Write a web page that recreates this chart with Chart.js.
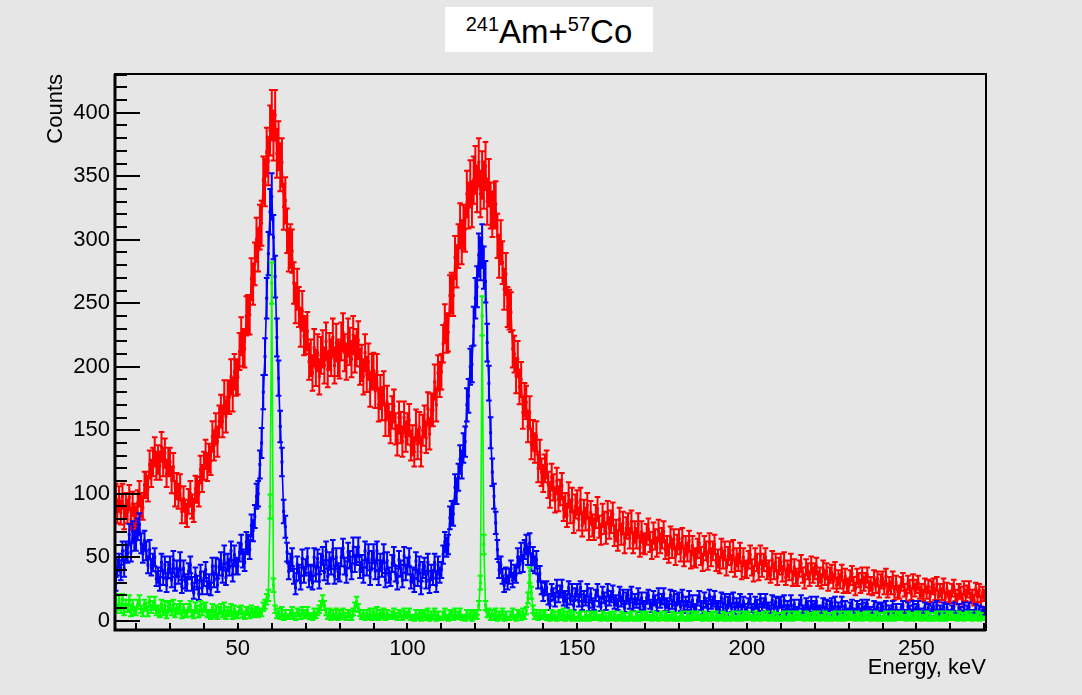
<!DOCTYPE html>
<html>
<head>
<meta charset="utf-8">
<script src="https://cdn.jsdelivr.net/npm/chart.js@4.4.1/dist/chart.umd.min.js"></script>
<style>
  html, body { margin: 0; padding: 0; background: #e6e6e6; }
  #wrap { position: relative; width: 1082px; height: 695px; }
  #title {
    position: absolute; left: 445px; top: 7px; width: 208px; height: 45px;
    background: #fff; color: #000; text-align: center;
    font-family: 'Liberation Sans', Arial, sans-serif; font-size: 33px; line-height: 50px;
  }
  #title sup { font-size: 20px; vertical-align: 0; position: relative; top: -12px; }
</style>
</head>
<body>
<div id="wrap">
  <canvas id="spec" width="1082" height="695"></canvas>
  <div id="title"><sup>241</sup>Am+<sup>57</sup>Co</div>
</div>
<script>
// ── Data (0.5 keV bins, first bin centre 14 keV) ───────
const E_FIRST = 14;
const E_STEP = 0.5;

const RED = [
  98, 86,                                                   // 14
  96, 85, 98, 81, 91, 86, 97, 80, 92, 83,                   // 15
  81, 93, 100, 91, 89, 107, 107, 104, 123, 116,             // 20
  125, 133, 122, 127, 122, 137, 125, 132, 116, 125,         // 25
  125, 111, 121, 100, 106, 98, 105, 86, 96, 86,             // 30
  83, 94, 100, 90, 87, 104, 103, 100, 119, 112,             // 35
  122, 131, 121, 128, 126, 145, 138, 151, 141, 157,         // 40
  165, 157, 176, 161, 176, 176, 192, 178, 196, 191,         // 45
  192, 212, 224, 215, 214, 240, 241, 241, 269, 265,         // 50
  281, 300, 292, 310, 313, 347, 345, 369, 362, 386,         // 55
  398, 382, 398, 368, 374, 357, 361, 326, 331, 307,         // 60
  292, 295, 291, 266, 250, 261, 247, 231, 244, 224,         // 65
  225, 228, 204, 207, 195, 215, 199, 211, 192, 209,         // 70
  214, 201, 220, 198, 212, 207, 223, 201, 219, 207,         // 75
  205, 220, 227, 211, 204, 223, 216, 206, 225, 210,         // 80
  215, 221, 200, 203, 192, 211, 194, 204, 182, 196,         // 85
  197, 181, 196, 170, 180, 171, 183, 158, 172, 158,         // 90
  152, 164, 169, 151, 142, 160, 152, 141, 160, 145,         // 95
  151, 158, 138, 142, 133, 154, 139, 152, 133, 150,         // 100
  157, 144, 167, 147, 166, 166, 188, 170, 195, 190,         // 105
  196, 218, 234, 226, 227, 256, 258, 256, 286, 279,         // 110
  295, 311, 298, 310, 308, 336, 327, 344, 328, 347,         // 115
  355, 340, 361, 336, 351, 343, 358, 330, 345, 327,         // 120
  320, 327, 328, 303, 287, 298, 282, 261, 273, 247,         // 125
  245, 243, 214, 210, 193, 206, 184, 190, 164, 174,         // 130
  172, 153, 164, 139, 146, 136, 145, 120, 131, 117,         // 135
  112, 120, 123, 107, 99, 113, 105, 95, 110, 96,            // 140
  101, 106, 88, 91, 83, 99, 86, 95, 78, 90,                 // 145
  93, 80, 95, 75, 86, 80, 91, 72, 85, 75,                   // 150
  72, 82, 88, 74, 68, 83, 77, 69, 85, 73,                   // 155
  78, 84, 67, 71, 63, 80, 68, 77, 61, 73,                   // 160
  76, 65, 78, 61, 70, 65, 76, 58, 70, 61,                   // 165
  60, 68, 72, 62, 56, 69, 64, 58, 71, 61,                   // 170
  65, 70, 56, 59, 53, 66, 57, 64, 51, 60,                   // 175
  64, 54, 65, 50, 59, 54, 63, 48, 59, 50,                   // 180
  49, 57, 61, 51, 46, 59, 55, 47, 61, 50,                   // 185
  55, 60, 46, 49, 44, 57, 48, 55, 42, 51,                   // 190
  55, 45, 56, 41, 50, 46, 54, 39, 50, 41,                   // 195
  40, 48, 52, 42, 37, 50, 46, 38, 52, 41,                   // 200
  46, 50, 39, 41, 36, 48, 39, 46, 34, 43,                   // 205
  46, 37, 47, 34, 41, 38, 46, 33, 42, 35,                   // 210
  33, 41, 45, 36, 31, 42, 39, 33, 44, 36,                   // 215
  39, 43, 33, 36, 31, 41, 34, 39, 29, 36,                   // 220
  38, 31, 40, 28, 34, 31, 38, 27, 35, 28,                   // 225
  27, 34, 37, 29, 25, 35, 32, 27, 36, 29,                   // 230
  32, 36, 26, 29, 25, 34, 27, 33, 23, 31,                   // 235
  33, 26, 35, 23, 29, 26, 33, 21, 30, 23,                   // 240
  22, 29, 32, 24, 20, 30, 27, 21, 31, 24,                   // 245
  27, 30, 22, 24, 20, 28, 22, 27, 19, 26,                   // 250
  28, 21, 29, 19, 24, 21, 28, 18, 25, 19,                   // 255
  18, 24, 27, 20, 17, 24, 22, 17, 26, 20,                   // 260
  23, 26, 18, 20, 16, 25, 19, 24, 15, 22,                   // 265
  20                                                        // 270
];

const BLUE = [
  29, 42,                                                   // 14
  46, 38, 55, 41, 55, 53, 68, 54, 70, 63,                   // 15
  63, 72, 76, 61, 53, 63, 55, 44, 56, 42,                   // 20
  46, 50, 33, 36, 29, 46, 34, 44, 28, 40,                   // 25
  44, 32, 48, 29, 41, 35, 47, 27, 41, 31,                   // 30
  29, 39, 44, 29, 22, 36, 30, 21, 38, 26,                   // 35
  33, 40, 26, 31, 25, 43, 32, 43, 28, 42,                   // 40
  47, 36, 52, 34, 46, 42, 55, 37, 52, 43,                   // 45
  43, 54, 60, 49, 46, 62, 60, 56, 75, 71,                   // 50
  82, 98, 100, 123, 140, 180, 208, 254, 289, 322,           // 55
  334, 302, 271, 223, 191, 153, 125, 86, 74, 54,            // 60
  39, 46, 50, 35, 26, 44, 38, 30, 49, 36,                   // 65
  42, 50, 32, 38, 30, 50, 37, 49, 31, 46,                   // 70
  51, 38, 55, 35, 47, 43, 56, 35, 50, 39,                   // 75
  37, 50, 57, 43, 36, 54, 48, 39, 58, 45,                   // 80
  51, 58, 40, 45, 36, 55, 42, 53, 34, 48,                   // 85
  53, 39, 55, 34, 46, 41, 53, 32, 47, 36,                   // 90
  33, 45, 51, 37, 30, 48, 41, 32, 51, 38,                   // 95
  43, 50, 31, 36, 28, 47, 33, 44, 26, 40,                   // 100
  43, 31, 46, 27, 38, 34, 46, 28, 44, 36,                   // 105
  40, 52, 62, 58, 60, 81, 85, 84, 105, 102,                 // 110
  113, 127, 123, 136, 141, 170, 177, 200, 202, 232,         // 115
  254, 263, 288, 285, 295, 278, 267, 219, 187, 148,         // 120
  117, 98, 77, 56, 40, 44, 35, 28, 36, 30,                  // 125
  35, 41, 32, 38, 36, 50, 44, 54, 45, 56,                   // 130
  60, 51, 61, 46, 51, 44, 48, 31, 37, 26,                   // 135
  20, 25, 26, 17, 12, 24, 21, 15, 27, 19,                   // 140
  23, 27, 16, 19, 14, 26, 17, 24, 12, 21,                   // 145
  24, 15, 26, 12, 19, 16, 24, 11, 21, 14,                   // 150
  12, 20, 24, 15, 11, 22, 18, 12, 24, 16,                   // 155
  19, 23, 13, 16, 12, 22, 15, 20, 10, 18,                   // 160
  20, 13, 22, 11, 17, 14, 21, 10, 18, 12,                   // 165
  10, 18, 20, 13, 10, 19, 16, 11, 21, 14,                   // 170
  17, 21, 11, 14, 10, 20, 13, 19, 9, 17,                    // 175
  18, 11, 20, 9, 15, 12, 19, 8, 16, 10,                     // 180
  9, 16, 19, 12, 8, 18, 14, 10, 20, 13,                     // 185
  15, 19, 10, 12, 8, 18, 11, 17, 7, 15,                     // 190
  17, 10, 18, 8, 14, 11, 17, 8, 15, 10,                     // 195
  8, 14, 17, 10, 7, 15, 13, 8, 17, 11,                      // 200
  14, 17, 9, 11, 7, 16, 10, 15, 7, 14,                      // 205
  15, 8, 16, 6, 12, 9, 16, 6, 13, 8,                        // 210
  7, 13, 16, 9, 6, 14, 12, 7, 15, 10,                       // 215
  12, 15, 7, 9, 5, 14, 8, 13, 5, 12,                        // 220
  14, 7, 15, 5, 11, 8, 15, 5, 12, 7,                        // 225
  6, 11, 13, 7, 5, 12, 10, 6, 13, 8,                        // 230
  11, 13, 7, 8, 5, 12, 7, 11, 5, 10,                        // 235
  11, 6, 12, 4, 9, 7, 12, 4, 10, 6,                         // 240
  5, 10, 12, 6, 4, 11, 9, 5, 12, 7,                         // 245
  10, 12, 6, 7, 4, 11, 6, 10, 4, 9,                         // 250
  11, 6, 12, 4, 9, 7, 11, 4, 10, 6,                         // 255
  4, 9, 11, 5, 3, 10, 8, 4, 11, 6,                          // 260
  9, 11, 5, 6, 3, 10, 5, 9, 3, 8,                           // 265
  7                                                         // 270
];

const GREEN = [
  17, 9,                                                    // 14
  16, 9, 17, 7, 13, 10, 16, 6, 13, 8,                       // 15
  7, 13, 16, 9, 6, 13, 11, 6, 15, 9,                        // 20
  12, 15, 7, 9, 5, 13, 7, 12, 4, 11,                        // 25
  12, 7, 13, 5, 10, 8, 12, 4, 10, 6,                        // 30
  5, 10, 12, 6, 4, 11, 9, 5, 12, 7,                         // 35
  10, 11, 5, 6, 3, 10, 5, 9, 3, 8,                          // 40
  10, 5, 11, 3, 8, 6, 10, 3, 9, 5,                          // 45
  4, 8, 9, 5, 3, 8, 7, 4, 9, 5,                             // 50
  7, 8, 5, 7, 6, 11, 13, 17, 20, 90,                        // 55
  266, 28, 9, 4, 7, 3, 8, 2, 6, 3,                          // 60
  3, 6, 8, 4, 2, 7, 6, 3, 8, 4,                             // 65
  6, 8, 3, 4, 2, 7, 4, 7, 9, 12,                            // 70
  16, 12, 7, 3, 7, 2, 6, 3, 7, 2,                           // 75
  6, 3, 7, 4, 2, 6, 5, 2, 7, 11,                            // 80
  15, 10, 6, 3, 6, 2, 6, 3, 7, 2,                           // 85
  7, 3, 8, 2, 6, 4, 7, 2, 6, 3,                             // 90
  3, 5, 7, 4, 2, 6, 5, 2, 7, 4,                             // 95
  5, 7, 2, 3, 1, 6, 3, 6, 1, 5,                             // 100
  6, 2, 7, 1, 5, 3, 7, 1, 5, 2,                             // 105
  2, 5, 7, 3, 1, 6, 5, 2, 7, 3,                             // 110
  5, 7, 2, 3, 1, 6, 3, 6, 1, 5,                             // 115
  6, 3, 12, 30, 240, 60, 12, 5, 7, 2,                       // 120
  6, 2, 7, 1, 5, 3, 7, 1, 5, 2,                             // 125
  2, 5, 7, 3, 1, 6, 5, 2, 7, 3,                             // 130
  8, 18, 36, 22, 9, 3, 6, 2, 6, 3,                          // 135
  5, 6, 2, 3, 1, 6, 3, 5, 1, 5,                             // 140
  6, 2, 7, 1, 5, 3, 6, 1, 5, 2,                             // 145
  1, 4, 5, 2, 1, 5, 3, 1, 5, 2,                             // 150
  4, 5, 2, 3, 1, 5, 2, 4, 1, 4,                             // 155
  5, 2, 5, 1, 3, 2, 5, 1, 4, 2,                             // 160
  1, 4, 5, 2, 1, 5, 3, 1, 5, 2,                             // 165
  4, 5, 2, 3, 1, 5, 2, 4, 1, 4,                             // 170
  5, 2, 5, 1, 3, 2, 5, 1, 4, 2,                             // 175
  1, 4, 5, 2, 1, 5, 3, 1, 5, 2,                             // 180
  4, 5, 2, 3, 1, 5, 2, 4, 1, 4,                             // 185
  5, 2, 5, 1, 3, 2, 5, 1, 4, 2,                             // 190
  1, 4, 5, 2, 1, 5, 3, 1, 5, 2,                             // 195
  4, 5, 2, 3, 1, 5, 2, 4, 1, 4,                             // 200
  5, 2, 5, 1, 3, 2, 5, 1, 4, 2,                             // 205
  1, 4, 5, 2, 1, 5, 3, 1, 5, 2,                             // 210
  4, 5, 2, 3, 1, 5, 2, 4, 1, 4,                             // 215
  5, 2, 5, 1, 3, 2, 5, 1, 4, 2,                             // 220
  1, 4, 5, 2, 1, 5, 3, 1, 5, 2,                             // 225
  4, 5, 2, 3, 1, 5, 2, 4, 1, 4,                             // 230
  5, 2, 5, 1, 3, 2, 5, 1, 4, 2,                             // 235
  1, 4, 5, 2, 1, 5, 3, 1, 5, 2,                             // 240
  4, 5, 2, 3, 1, 5, 2, 4, 1, 4,                             // 245
  5, 2, 5, 1, 3, 2, 5, 1, 4, 2,                             // 250
  1, 4, 5, 2, 1, 5, 3, 1, 5, 2,                             // 255
  4, 5, 2, 3, 1, 5, 2, 4, 1, 4,                             // 260
  5, 2, 5, 1, 3, 2, 5, 1, 4, 2,                             // 265
  2                                                         // 270
];

const X_LABELS = [50, 100, 150, 200, 250];
const Y_LABELS = [0, 50, 100, 150, 200, 250, 300, 350, 400];
const X_RANGE = [13.8, 270.5];
const Y_RANGE = [-7.3, 430.5];

// ── Helpers ───────────────────────────────────────────
const toPoints = arr => arr.map((v, i) => ({ x: E_FIRST + i * E_STEP, y: v }));
const FONT = { family: "'Liberation Sans', Arial, sans-serif", size: 22 };

function hist(label, values, color) {
  return {
    label, data: toPoints(values),
    borderColor: color, backgroundColor: color, borderWidth: 1.6,
    pointStyle: 'rect', pointRadius: 2.1, pointBorderWidth: 0,
    showLine: true, tension: 0
  };
}

// ── Plugins ───────────────────────────────────────────
// sqrt(N) error bars with small caps, drawn just before each dataset
const errorBars = {
  id: 'errorBars',
  beforeDatasetDraw(chart, args) {
    const { ctx, chartArea: a, scales: { x, y } } = chart;
    const ds = chart.data.datasets[args.index];
    ctx.save();
    ctx.beginPath();
    ctx.rect(a.left, a.top, a.right - a.left, a.bottom - a.top);
    ctx.clip();
    ctx.strokeStyle = ds.borderColor;
    ctx.lineWidth = 2;
    ctx.beginPath();
    ds.data.forEach(p => {
      const err = Math.sqrt(p.y);
      const px = x.getPixelForValue(p.x);
      const top = y.getPixelForValue(p.y + err);
      const bot = y.getPixelForValue(p.y - err);
      ctx.moveTo(px, top); ctx.lineTo(px, bot);
      ctx.moveTo(px - 2.8, top); ctx.lineTo(px + 2.8, top);
      ctx.moveTo(px - 2.8, bot); ctx.lineTo(px + 2.8, bot);
    });
    ctx.stroke();
    ctx.restore();
  }
};

// ROOT-like frame with inward ticks
const rootFrame = {
  id: 'rootFrame',
  afterDatasetsDraw(chart) {
    const { ctx, chartArea: a, scales: { x, y } } = chart;
    ctx.save();
    ctx.strokeStyle = '#000';
    ctx.lineWidth = 2;
    ctx.beginPath();
    for (let v = 20; v <= X_RANGE[1]; v += 10) {
      const px = Math.round(x.getPixelForValue(v));
      ctx.moveTo(px, a.bottom); ctx.lineTo(px, a.bottom - 7);
    }
    for (let v = 0; v <= Y_RANGE[1]; v += 10) {
      const py = Math.round(y.getPixelForValue(v));
      ctx.moveTo(a.left, py); ctx.lineTo(a.left + (v % 50 === 0 ? 25 : 12), py);
    }
    ctx.stroke();
    ctx.strokeRect(a.left, a.top, a.right - a.left, a.bottom - a.top);
    ctx.lineWidth = 3;
    ctx.beginPath();
    ctx.moveTo(a.left, a.top); ctx.lineTo(a.left, a.bottom); ctx.lineTo(a.right, a.bottom);
    ctx.stroke();
    ctx.restore();
  }
};

// ── Chart ─────────────────────────────────────────────
new Chart(document.getElementById('spec'), {
  type: 'scatter',
  data: {
    datasets: [
      hist('Coincidence', GREEN, '#00ff00'),
      hist('Detector 2', BLUE, '#0000ff'),
      hist('Detector 1', RED, '#ff0000')
    ]
  },
  options: {
    responsive: false,
    animation: false,
    events: [],
    layout: { padding: { left: 0, right: 96, top: 74, bottom: 0 } },
    plugins: { legend: { display: false }, tooltip: { enabled: false } },
    scales: {
      x: {
        type: 'linear', min: X_RANGE[0], max: X_RANGE[1],
        afterBuildTicks: s => { s.ticks = X_LABELS.map(v => ({ value: v })); },
        afterFit: s => { s.height = 65; },
        grid: { display: false, drawTicks: false },
        border: { display: false },
        ticks: { color: '#000', font: FONT, padding: 6, maxRotation: 0, autoSkip: false },
        title: { display: true, text: 'Energy, keV', align: 'end', color: '#000',
                 font: FONT, padding: { top: 0, bottom: 14 } }
      },
      y: {
        type: 'linear', min: Y_RANGE[0], max: Y_RANGE[1],
        afterBuildTicks: s => { s.ticks = Y_LABELS.map(v => ({ value: v })); },
        afterFit: s => { s.width = 115; },
        grid: { display: false, drawTicks: false },
        border: { display: false },
        ticks: { color: '#000', font: FONT, padding: 5 },
        title: { display: true, text: 'Counts', align: 'end', color: '#000',
                 font: FONT, padding: { top: 43, bottom: 0 } }
      }
    }
  },
  plugins: [errorBars, rootFrame]
});
</script>
</body>
</html>
